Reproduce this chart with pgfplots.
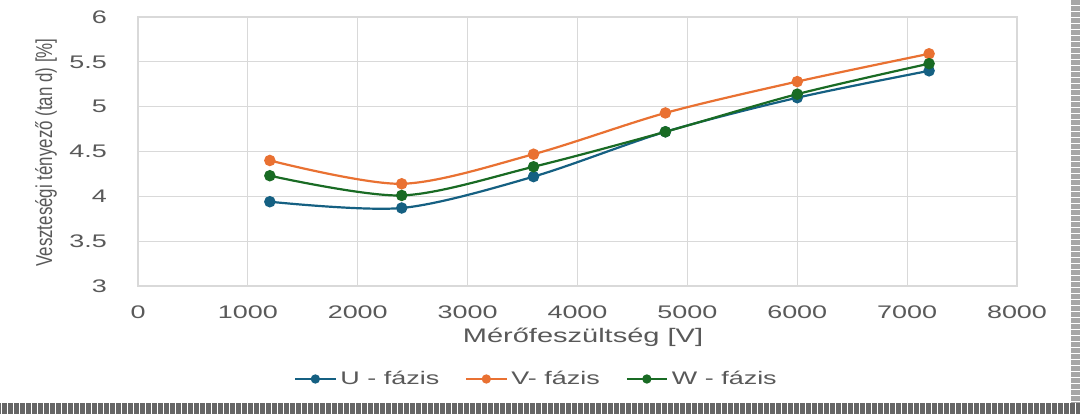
\documentclass[border=0pt]{standalone}
\usepackage{fontspec}
\setmainfont{Liberation Sans}
\newfontfamily\widefont{Liberation Sans}[FakeStretch=1.48]
\newfontfamily\narrowfont{Liberation Sans}[FakeStretch=0.735]
\usepackage{pgfplots}
\pgfplotsset{compat=1.18}
\usetikzlibrary{patterns}

\definecolor{uphase}{HTML}{156082}
\definecolor{vphase}{HTML}{E97132}
\definecolor{wphase}{HTML}{196B24}
\definecolor{gridgray}{HTML}{D9D9D9}
\definecolor{txtgray}{HTML}{595959}

\begin{document}
\begin{tikzpicture}
\useasboundingbox (0,0) rectangle (540pt,207pt);
\fill[white] (0,0) rectangle (540pt,207pt);
% scanned strips along the bottom and right edge
\fill[black!60] (0,0) rectangle (540pt,5.5pt);
\fill[pattern=vertical lines, pattern color=white] (0,0) rectangle (540pt,5.5pt);
\fill[black!35] (535.5pt,5.5pt) rectangle (540pt,207pt);
\fill[pattern=horizontal lines, pattern color=white] (535.5pt,5.5pt) rectangle (540pt,207pt);

\begin{axis}[
  at={(69pt,64pt)}, anchor=south west, scale only axis,
  width=439.5pt, height=134.5pt,
  xmin=0, xmax=8000, ymin=3, ymax=6,
  xtick={0,1000,...,8000}, ytick={3,3.5,...,6},
  grid=major,
  major grid style={gridgray, line width=0.6pt},
  axis line style={gridgray, line width=0.6pt},
  tick style={draw=none},
  scaled x ticks=false,
  /pgf/number format/assume math mode=true,
  /pgf/number format/1000 sep={},
  ticklabel style={font=\widefont\fontsize{9.1}{10}\selectfont, text=txtgray},
  xticklabel style={yshift=-6.25pt},
  yticklabel style={xshift=-12pt},
  legend columns=3,
  legend style={at={(0.4545,-0.3457)}, anchor=center, draw=none, fill=none,
    font=\widefont\fontsize{9.1}{10}\selectfont, text=txtgray,
    /tikz/every even column/.append style={column sep=11pt}},
  legend image code/.code={
    \draw[mark repeat=2, mark phase=2, mark size=1.75pt]
      plot coordinates {(0pt,0pt) (10pt,0pt) (20pt,0pt)};},
  every axis plot/.append style={smooth, line width=1.1pt, mark=*, mark size=2.3pt},
]
\addplot[color=uphase, mark options={fill=uphase}] coordinates {
  (1200,3.94) (2400,3.87) (3600,4.22) (4800,4.72) (6000,5.10) (7200,5.40)};
\addlegendentry{U - fázis}
\addplot[color=vphase, mark options={fill=vphase}] coordinates {
  (1200,4.40) (2400,4.14) (3600,4.47) (4800,4.93) (6000,5.28) (7200,5.59)};
\addlegendentry{V- fázis}
\addplot[color=wphase, mark options={fill=wphase}] coordinates {
  (1200,4.23) (2400,4.01) (3600,4.33) (4800,4.72) (6000,5.14) (7200,5.48)};
\addlegendentry{W - fázis}
\end{axis}

\node[font=\widefont\fontsize{9.8}{11}\selectfont, text=txtgray] at (291.5pt,38.5pt) {Mérőfeszültség [V]};
\node[font=\narrowfont\fontsize{11.5}{12}\selectfont, text=txtgray, rotate=90] at (23pt,130.75pt) {Veszteségi tényező (tan d) [\%]};
\end{tikzpicture}
\end{document}
